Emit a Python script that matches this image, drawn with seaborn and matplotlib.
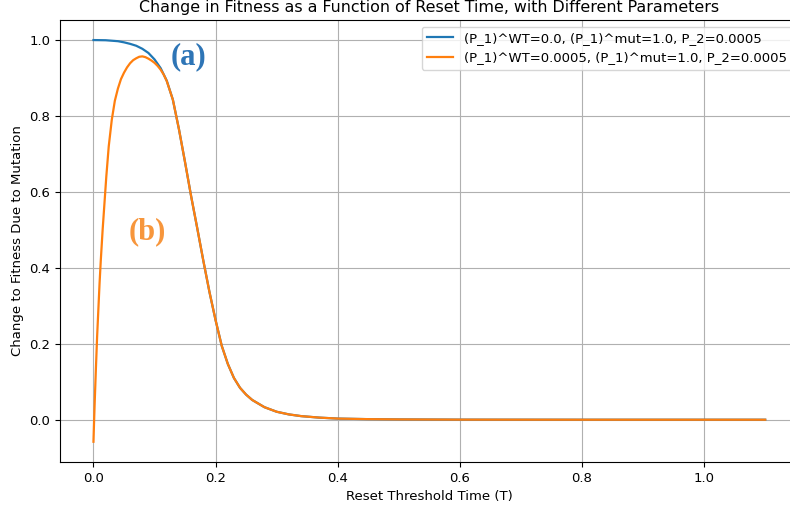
import numpy as np
import pandas as pd
import seaborn as sns
import matplotlib.pyplot as plt

# values
t_wt0 = [0.000, 0.020, 0.040, 0.050, 0.060, 0.070, 0.080, 0.090, 0.100, 0.110,
         0.120, 0.130, 0.140, 0.150, 0.160, 0.170, 0.180, 0.190, 0.200, 0.210,
         0.220, 0.230, 0.240, 0.250, 0.260, 0.280, 0.300, 0.320, 0.340, 0.370,
         0.400, 0.450, 0.500, 0.600, 0.800, 1.100]
fit_wt0 = [1.000, 0.9995, 0.997, 0.994, 0.990, 0.985, 0.977, 0.966, 0.949, 0.926,
           0.893, 0.843, 0.765, 0.678, 0.588, 0.504, 0.418, 0.336, 0.262, 0.195,
           0.147, 0.110, 0.084, 0.066, 0.052, 0.033, 0.021, 0.014, 0.0095, 0.0055,
           0.003, 0.0015, 0.0008, 0.0002, 0.0, 0.0]

t_wt5 = [0.000, 0.001, 0.002, 0.003, 0.004, 0.006, 0.008, 0.010, 0.012, 0.015,
         0.018, 0.021, 0.025, 0.030, 0.035, 0.040, 0.045, 0.050, 0.055, 0.060,
         0.065, 0.070, 0.075, 0.080, 0.085, 0.090, 0.095, 0.100, 0.105, 0.110,
         0.115, 0.120, 0.130, 0.140, 0.150, 0.160, 0.170, 0.180, 0.190, 0.200,
         0.210, 0.220, 0.230, 0.240, 0.250, 0.260, 0.280, 0.300, 0.320, 0.340,
         0.370, 0.400, 0.450, 0.500, 0.600, 0.800, 1.100]
fit_wt5 = [-0.058, -0.005, 0.045, 0.090, 0.135, 0.220, 0.290, 0.360, 0.420, 0.500,
           0.570, 0.640, 0.720, 0.790, 0.840, 0.872, 0.897, 0.914, 0.928, 0.939,
           0.947, 0.952, 0.956, 0.957, 0.955, 0.951, 0.946, 0.940, 0.932, 0.922,
           0.909, 0.892, 0.843, 0.765, 0.678, 0.588, 0.504, 0.418, 0.336, 0.262,
           0.195, 0.147, 0.110, 0.084, 0.066, 0.052, 0.033, 0.021, 0.014, 0.0095,
           0.0055, 0.003, 0.0015, 0.0008, 0.0002, 0.0, 0.0]

label_wt0 = "(P_1)^WT=0.0, (P_1)^mut=1.0, P_2=0.0005"
label_wt5 = "(P_1)^WT=0.0005, (P_1)^mut=1.0, P_2=0.0005"

df_wt0 = pd.DataFrame({"T": t_wt0, "fitness": fit_wt0})
df_wt5 = pd.DataFrame({"T": t_wt5, "fitness": fit_wt5})

fig = plt.figure(figsize=(7.9, 5.12), dpi=100)
# axes run a bit past the right edge, as in the cropped reference
ax = fig.add_axes([0.0758, 0.098, 0.9353, 0.863])

sns.lineplot(data=df_wt0, x="T", y="fitness", ax=ax, color="#1f77b4",
             label=label_wt0, estimator=None, linewidth=1.6)
sns.lineplot(data=df_wt5, x="T", y="fitness", ax=ax, color="#ff7f0e",
             label=label_wt5, estimator=None, linewidth=1.6)

ax.set_xlabel("Reset Threshold Time (T)", fontsize=9.5)
ax.set_ylabel("Change to Fitness Due to Mutation", fontsize=9.5)
ax.set_title("Change in Fitness as a Function of Reset Time, with Different Parameters",
             fontsize=11.4)
ax.tick_params(labelsize=9.5)
ax.grid(True)
ax.spines["right"].set_visible(False)
ax.legend(loc="upper right", fontsize=9.5)

fig.text(0.238, 0.889, "(a)", color="#2e75b6", fontsize=22, fontweight="bold",
         family="Liberation Serif", ha="center", va="center")
fig.text(0.187, 0.547, "(b)", color="#f7963c", fontsize=22, fontweight="bold",
         family="Liberation Serif", ha="center", va="center")

fig.savefig("out.png", dpi=100)
